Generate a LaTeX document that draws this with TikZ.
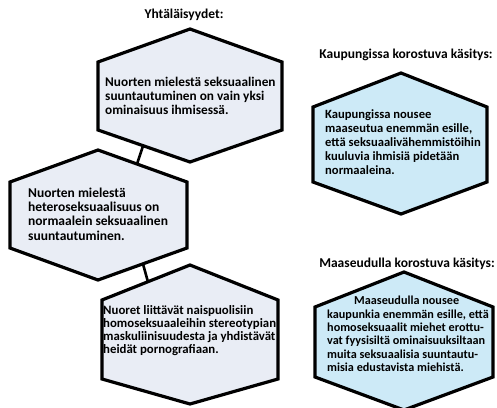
\documentclass[tikz,border=0pt]{standalone}
\usepackage{fontspec}
\setmainfont{Carlito}
\definecolor{hexgray}{RGB}{233,237,245}
\definecolor{hexblue}{RGB}{205,234,247}

\begin{document}
\begin{tikzpicture}[x=1pt,y=-1pt,
  hexline/.style={line width=3.2pt,draw=black,line join=miter},
  link/.style={line width=2.6pt},
  txt/.style 2 args={font=\bfseries\fontsize{#1}{#2}\selectfont,align=left,inner sep=0pt,anchor=west},
  heading/.style={font=\bfseries\fontsize{13.5}{14}\selectfont,inner sep=0pt}]
\useasboundingbox (0,0) rectangle (497,407);

%Ends of the connectors
\coordinate (h1out) at (143,146);
\coordinate (h2in) at (137,164);
\coordinate (h2out) at (143,264);
\coordinate (h3in) at (148,282);

%Connectors, drawn first so the hexagons cover their ends
\draw[link] (h1out) -- (h2in);
\draw[link] (h2out) -- (h3in);

%Hexagons by hand
\draw[hexline,fill=hexgray] (190,29) -- (282,62) -- (282,130) -- (190,162) -- (98,130) -- (98,62) -- cycle;
\draw[hexline,fill=hexgray] (98,150) -- (187,182) -- (187,248) -- (98,280) -- (10,248) -- (10,182) -- cycle;
\draw[hexline,fill=hexgray] (190,265) -- (278,300) -- (278,379) -- (190,404) -- (102,379) -- (102,300) -- cycle;
\draw[hexline,fill=hexblue] (401,73) -- (487,107) -- (487,182) -- (401,214) -- (313,182) -- (313,107) -- cycle;
\draw[hexline,fill=hexblue] (404,272) -- (493,307) -- (493,377) -- (404,410) -- (315,377) -- (315,307) -- cycle;

%Headings
\node (same) [heading] at (184,15) {Yhtäläisyydet:};
\node (city) [heading] at (406,55) {Kaupungissa korostuva käsitys:};
\node (country) [heading] at (407,264) {Maaseudulla korostuva käsitys:};

%Texts in the hexagons
\node (same1) [txt={13.3}{14.2}] at (105,96) {Nuorten mielestä seksuaalinen\\suuntautuminen on vain yksi\\ominaisuus ihmisessä.};
\node (same2) [txt={13.5}{14.3}] at (28,214) {Nuorten mielestä\\heteroseksuaalisuus on\\normaalein seksuaalinen\\suuntautuminen.};
\node (same3) [txt={12.8}{13}] at (103,331) {Nuoret liittävät naispuolisiin\\homoseksuaaleihin stereotypian\\maskuliinisuudesta ja yhdistävät\\heidät pornografiaan.};
\node (city1) [txt={12.6}{14}] at (325,142) {Kaupungissa nousee\\maaseutua enemmän esille,\\että seksuaalivähemmistöihin\\kuuluvia ihmisiä pidetään\\normaaleina.};
\node (country1) [txt={12.2}{13.4}] at (327,334) {\hspace*{27pt}Maaseudulla nousee\\kaupunkia enemmän esille, että\\homoseksuaalit miehet erottu-\\vat fyysisiltä ominaisuuksiltaan\\muita seksuaalisia suuntautu-\\misia edustavista miehistä.};

\end{tikzpicture}
\end{document}
